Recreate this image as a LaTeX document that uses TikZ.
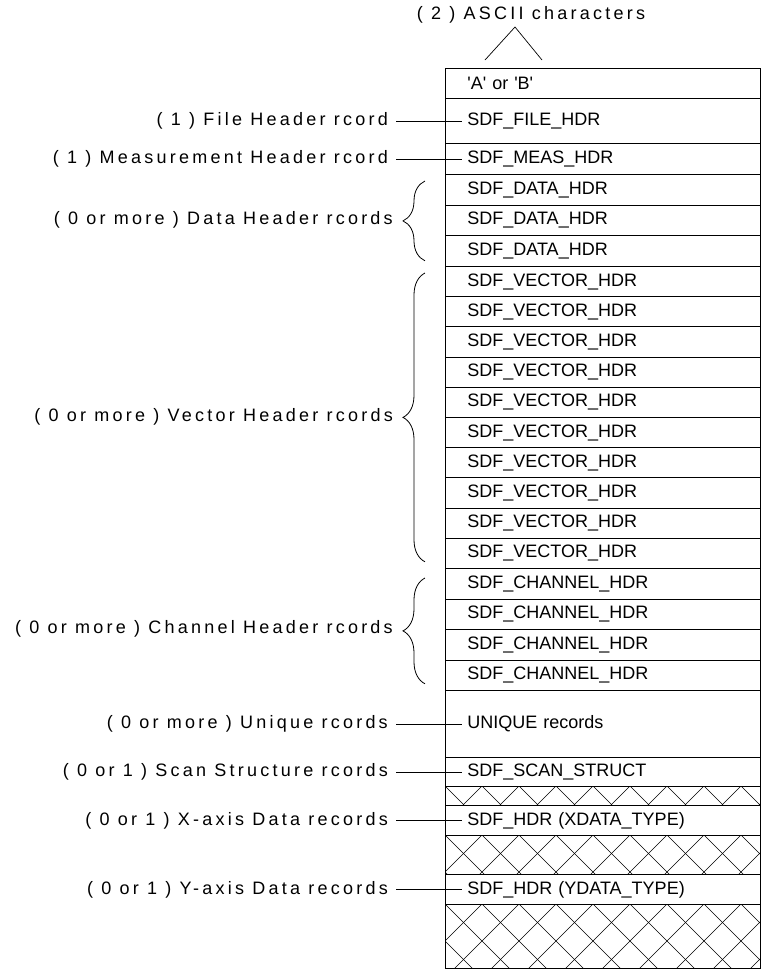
\documentclass[tikz,border=0pt]{standalone}
\usepackage{fontspec}
\setmainfont{Liberation Sans}
\newfontfamily\lblfont[LetterSpace=18]{Liberation Sans}
\usetikzlibrary{decorations.pathreplacing}
\begin{document}
\begin{tikzpicture}[x=1pt,y=-1pt,
  rowbox/.style={draw, line width=0.8pt, anchor=north west, inner xsep=22pt, inner ysep=0pt,
    text width=271pt, align=left, minimum height=#1, font=\fontsize{18}{20}\selectfont},
  hatchbox/.style={draw, line width=0.8pt, anchor=north west, inner sep=0pt,
    minimum width=315pt, minimum height=#1},
  hatchline/.style={line width=0.6pt},
  lbl/.style={inner sep=0pt, anchor=east, font=\lblfont\fontsize{18}{20}\selectfont},
  leader/.style={line width=0.7pt},
  bracestyle/.style={decorate, decoration={brace, amplitude=22pt}, line width=0.8pt}]
\useasboundingbox (0,0) rectangle (763,970);

% rows
\node[rowbox=30pt] (r0) at (445,68) {\textquotesingle A\textquotesingle\ or \textquotesingle B\textquotesingle};
\node[rowbox=45pt] (r1) at (445,98) {SDF\_FILE\_HDR};
\node[rowbox=31pt] (r2) at (445,143) {SDF\_MEAS\_HDR};
\foreach \i in {0,1,2}
  \node[rowbox=30.67pt] (d\i) at (445,174+30.67*\i) {SDF\_DATA\_HDR};
\foreach \i in {0,...,9}
  \node[rowbox=30.2pt] (v\i) at (445,266+30.2*\i) {SDF\_VECTOR\_HDR};
\foreach \i in {0,...,3}
  \node[rowbox=30.5pt] (c\i) at (445,568+30.5*\i) {SDF\_CHANNEL\_HDR};
\node[rowbox=67pt] (ru) at (445,690) {UNIQUE records};
\node[rowbox=29pt] (rs) at (445,757) {SDF\_SCAN\_STRUCT};
\node[hatchbox=19pt] (h1) at (445,786) {};
\node[rowbox=30pt] (rx) at (445,805) {SDF\_HDR (XDATA\_TYPE)};
\node[hatchbox=39pt] (h2) at (445,835) {};
\node[rowbox=30pt] (ry) at (445,874) {SDF\_HDR (YDATA\_TYPE)};
\node[hatchbox=64pt] (h3) at (445,904) {};

% cross hatching
\foreach \h/\yt in {h1/786,h2/835,h3/904} {
  \begin{scope}
    \clip (\h.north west) rectangle (\h.south east);
    \foreach \k in {-3,...,11} {
      \draw[hatchline] (445+37*\k,\yt) -- ++(66,66);
      \draw[hatchline] (445+37*\k,\yt) -- ++(-66,66);
    }
  \end{scope}
}

% top label
\node[lbl, anchor=center] (top) at (531,15) {( 2 ) ASCII characters};
\coordinate (apex) at (515,27);
\coordinate (legl) at (485,60);
\coordinate (legr) at (542,60);
\draw[leader] (legl) -- (apex) -- (legr);

% single labels with leaders
\node[lbl] (lf) at ([xshift=-57pt]r1.west) {( 1 ) File Header rcord};
\node[lbl] (lm) at ([xshift=-57pt]r2.west) {( 1 ) Measurement Header rcord};
\node[lbl] (lu) at ([xshift=-57pt]ru.west) {( 0 or more ) Unique rcords};
\node[lbl] (ls) at ([xshift=-57pt]rs.west) {( 0 or 1 ) Scan Structure rcords};
\node[lbl] (lx) at ([xshift=-57pt]rx.west) {( 0 or 1 ) X-axis Data records};
\node[lbl] (ly) at ([xshift=-57pt]ry.west) {( 0 or 1 ) Y-axis Data records};
\foreach \l/\r in {lf/r1,lm/r2,lu/ru,ls/rs,lx/rx,ly/ry}
  \draw[leader] ([xshift=8pt]\l.east) -- ([xshift=17pt]\r.west);

% braces
\draw[bracestyle] ([shift={(-20pt,6pt)}]d2.south west) -- ([shift={(-20pt,-7pt)}]d0.north west);
\draw[bracestyle] ([shift={(-20pt,7pt)}]v9.south west) -- ([shift={(-20pt,-7pt)}]v0.north west);
\draw[bracestyle] ([shift={(-20pt,7pt)}]c3.south west) -- ([shift={(-20pt,-10pt)}]c0.north west);

% brace labels
\node[lbl] (ld) at (393,220) {( 0 or more ) Data Header rcords};
\node[lbl] (lv) at (393,417) {( 0 or more ) Vector Header rcords};
\node[lbl] (lc) at (393,629) {( 0 or more ) Channel Header rcords};
\end{tikzpicture}
\end{document}
